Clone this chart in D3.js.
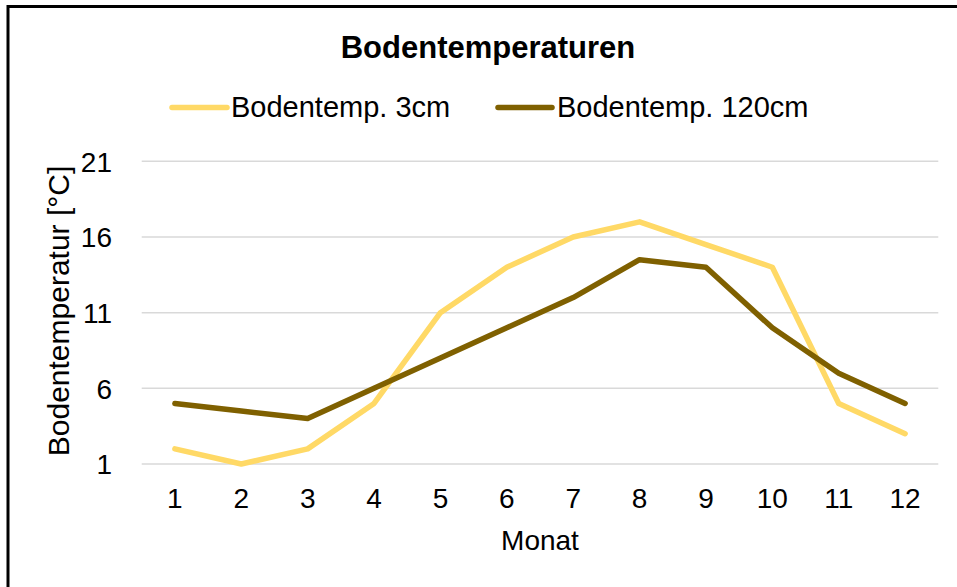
<!DOCTYPE html>
<html>
<head>
<meta charset="utf-8">
<script src="https://cdn.jsdelivr.net/npm/d3@7"></script>
<style>
  html, body { margin: 0; padding: 0; background: #fff; }
  svg { display: block; font-family: "Liberation Sans", Arial, sans-serif; }
</style>
</head>
<body>
<svg id="chart" width="957" height="587"></svg>
<script>
// Monthly soil temperatures at two depths
const months = [1, 2, 3, 4, 5, 6, 7, 8, 9, 10, 11, 12];
const temp3cm = [2, 1, 2, 5, 11, 14, 16, 17, 15.5, 14, 5, 3];
const temp120cm = [5, 4.5, 4, 6, 8, 10, 12, 14.5, 14, 10, 7, 5];
const yTicks = [1, 6, 11, 16, 21];
const seriesNames = ["Bodentemp. 3cm", "Bodentemp. 120cm"];
const seriesColors = ["#FFD966", "#7F6000"];

const svg = d3.select("#chart");
const W = 957, H = 587;

// outer frame (runs off the right and bottom edges)
svg.append("rect")
  .attr("x", 8).attr("y", 6.5)
  .attr("width", W + 20).attr("height", H + 20)
  .attr("fill", "#fff").attr("stroke", "#000").attr("stroke-width", 3);

const plot = { left: 141.7, right: 938.3, top: 161.3, bottom: 464 };

const x = d3.scaleBand().domain(months).range([plot.left, plot.right]);
const y = d3.scaleLinear().domain([1, 21]).range([plot.bottom, plot.top]);

// horizontal gridlines
svg.append("g")
  .selectAll("line")
  .data(yTicks)
  .join("line")
  .attr("x1", plot.left).attr("x2", plot.right)
  .attr("y1", d => y(d)).attr("y2", d => y(d))
  .attr("stroke", "#D9D9D9").attr("stroke-width", 1.5);

// y axis labels
const yAxis = d3.axisLeft(y).tickValues(yTicks).tickSize(0).tickPadding(0);
const yg = svg.append("g").attr("transform", `translate(${112},1)`).call(yAxis);
yg.select(".domain").remove();
yg.selectAll("text")
  .attr("font-size", 28).attr("fill", "#000")
  .attr("font-family", "Liberation Sans, Arial, sans-serif");

// x axis labels
const xAxis = d3.axisBottom(x).tickSize(0).tickPadding(0);
const xg = svg.append("g").attr("transform", `translate(0,${488})`).call(xAxis);
xg.select(".domain").remove();
xg.selectAll("text")
  .attr("font-size", 28).attr("fill", "#000")
  .attr("font-family", "Liberation Sans, Arial, sans-serif");

// series lines
const line = d3.line()
  .x((d, i) => x(months[i]) + x.bandwidth() / 2)
  .y(d => y(d));

[temp3cm, temp120cm].forEach((vals, k) => {
  svg.append("path")
    .datum(vals)
    .attr("d", line)
    .attr("fill", "none")
    .attr("stroke", seriesColors[k])
    .attr("stroke-width", 5.5)
    .attr("stroke-linejoin", "round")
    .attr("stroke-linecap", "round");
});

// title
svg.append("text")
  .attr("x", 488).attr("y", 58.3)
  .attr("text-anchor", "middle")
  .attr("font-size", 31).attr("font-weight", "bold")
  .text("Bodentemperaturen");

// legend
const legendItems = [
  { x1: 172, x2: 227, tx: 231, name: seriesNames[0], color: seriesColors[0] },
  { x1: 498, x2: 552, tx: 557, name: seriesNames[1], color: seriesColors[1] }
];
const lg = svg.append("g");
legendItems.forEach(it => {
  lg.append("line")
    .attr("x1", it.x1).attr("x2", it.x2)
    .attr("y1", 107.5).attr("y2", 107.5)
    .attr("stroke", it.color).attr("stroke-width", 5.5)
    .attr("stroke-linecap", "round");
  lg.append("text")
    .attr("x", it.tx).attr("y", 116.7)
    .attr("font-size", 29)
    .text(it.name);
});

// axis titles
svg.append("text")
  .attr("x", (plot.left + plot.right) / 2).attr("y", 550)
  .attr("text-anchor", "middle")
  .attr("font-size", 28)
  .text("Monat");

svg.append("text")
  .attr("transform", `translate(${69},${311}) rotate(-90)`)
  .attr("text-anchor", "middle")
  .attr("font-size", 30)
  .text("Bodentemperatur [°C]");
</script>
</body>
</html>
